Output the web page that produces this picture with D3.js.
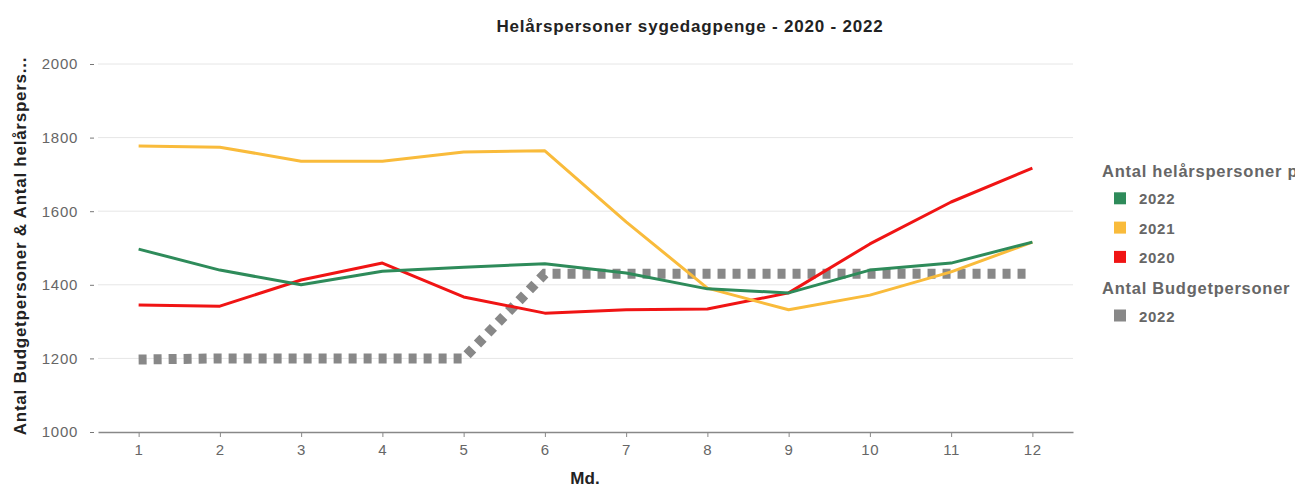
<!DOCTYPE html>
<html>
    <head>
        <style>
            body { margin: 0; background: #fff; overflow: hidden; }
            svg { font-family: "Liberation Sans", Arial, sans-serif; }
        </style>
    </head>
    <body>
        <svg></svg>

        <script src="https://d3js.org/d3.v7.min.js"></script>

        <script>
            const months = ["1", "2", "3", "4", "5", "6", "7", "8", "9", "10", "11", "12"];

            const helaar2022 = [1497, 1440, 1400, 1437, 1448, 1457, 1432, 1389, 1378, 1440, 1459, 1516];
            const helaar2021 = [1777, 1774, 1736, 1736, 1761, 1764, 1571, 1391, 1332, 1372, 1435, 1516];
            const helaar2020 = [1345, 1342, 1413, 1459, 1367, 1323, 1332, 1334, 1378, 1511, 1625, 1717];
            const budget2022 = [1197, 1200, 1200, 1200, 1200, 1430, 1430, 1430, 1430, 1430, 1430, 1430];

            const yTicks = [1000, 1200, 1400, 1600, 1800, 2000];

            const width = 1295,
                height = 487;

            const svg = d3.select("svg")
                        .attr("width", width)
                        .attr("height", height);

            const x = d3.scalePoint()
                        .domain(months)
                        .range([98, 1073])
                        .padding(0.5);

            const y = d3.scaleLinear()
                        .domain([1000, 2000])
                        .range([432, 64]);

            // gridlines
            svg.append("g")
                .selectAll("line")
                .data(yTicks.filter(d => d > 1000))
                .enter()
                .append("line")
                .attr("x1", 98)
                .attr("x2", 1073)
                .attr("y1", d => y(d))
                .attr("y2", d => y(d))
                .attr("stroke", "#e6e6e6")
                .attr("stroke-width", 1);

            // y axis
            const yAxis = svg.append("g")
                .attr("transform", "translate(96,0)")
                .call(d3.axisLeft(y).tickValues(yTicks).tickFormat(d3.format("d")).tickSize(6).tickPadding(12));
            yAxis.select(".domain").remove();
            yAxis.selectAll(".tick line").attr("stroke", "#777").attr("x1", -2);
            yAxis.selectAll("text")
                .attr("fill", "#666")
                .attr("font-size", 15)
                .attr("letter-spacing", 0.7)
                .attr("font-family", "Liberation Sans, Arial, sans-serif");

            // x axis
            const xAxis = svg.append("g")
                .attr("transform", "translate(0,432)")
                .call(d3.axisBottom(x).tickSize(5).tickSizeOuter(0).tickPadding(7));
            xAxis.select(".domain").attr("stroke", "#888").attr("stroke-width", 1.5);
            xAxis.selectAll(".tick line").attr("stroke", "#888");
            xAxis.selectAll("text")
                .attr("fill", "#666")
                .attr("font-size", 15)
                .attr("letter-spacing", 0.7)
                .attr("font-family", "Liberation Sans, Arial, sans-serif");

            const line = d3.line()
                .x((d, i) => x(months[i]))
                .y(d => y(d));

            // budget line (dotted, thick)
            svg.append("path")
                .datum(budget2022)
                .attr("fill", "none")
                .attr("stroke", "#888")
                .attr("stroke-width", 10)
                .attr("stroke-dasharray", "8 7")
                .attr("d", line);

            const series = [
                { values: helaar2020, color: "#f01414" },
                { values: helaar2021, color: "#f9bb3b" },
                { values: helaar2022, color: "#2e8b5a" }
            ];

            series.forEach(function(s) {
                svg.append("path")
                    .datum(s.values)
                    .attr("fill", "none")
                    .attr("stroke", s.color)
                    .attr("stroke-width", 3)
                    .attr("stroke-linejoin", "round")
                    .attr("d", line);
            });

            // titles
            svg.append("text")
                .attr("x", 690)
                .attr("y", 32)
                .attr("text-anchor", "middle")
                .attr("font-size", 17)
                .attr("letter-spacing", 0.8)
                .attr("font-weight", "bold")
                .attr("fill", "#222")
                .text("Helårspersoner sygedagpenge - 2020 - 2022");

            svg.append("text")
                .attr("transform", "translate(26,246) rotate(-90)")
                .attr("text-anchor", "middle")
                .attr("font-size", 17)
                .attr("letter-spacing", 0.75)
                .attr("font-weight", "bold")
                .attr("fill", "#222")
                .text("Antal Budgetpersoner & Antal helårspers...");

            svg.append("text")
                .attr("x", 585)
                .attr("y", 484)
                .attr("text-anchor", "middle")
                .attr("font-size", 17)
                .attr("font-weight", "bold")
                .attr("fill", "#222")
                .text("Md.");

            // legend
            const legendRows = [
                { type: "head", label: "Antal helårspersoner pr. md." },
                { type: "item", label: "2022", color: "#2e8b5a" },
                { type: "item", label: "2021", color: "#f9bb3b" },
                { type: "item", label: "2020", color: "#f01414" },
                { type: "head", label: "Antal Budgetpersoner" },
                { type: "item", label: "2022", color: "#888" }
            ];

            const lg = svg.append("g")
                .selectAll("g")
                .data(legendRows)
                .enter()
                .append("g")
                .attr("transform", function(d, i) { return "translate(1102," + (168 + i * 29.3) + ")"; });

            lg.filter(d => d.type === "head")
                .append("text")
                .attr("x", 0)
                .attr("y", 9)
                .attr("font-size", 16.5)
                .attr("letter-spacing", 0.75)
                .attr("font-weight", "bold")
                .attr("fill", "#666")
                .text(d => d.label);

            lg.filter(d => d.type === "item")
                .append("rect")
                .attr("x", 12)
                .attr("y", -5)
                .attr("width", 12)
                .attr("height", 12)
                .attr("fill", d => d.color);

            lg.filter(d => d.type === "item")
                .append("text")
                .attr("x", 37)
                .attr("y", 7)
                .attr("font-size", 15)
                .attr("letter-spacing", 0.7)
                .attr("font-weight", "bold")
                .attr("fill", "#666")
                .text(d => d.label);
        </script>
    </body>
</html>
